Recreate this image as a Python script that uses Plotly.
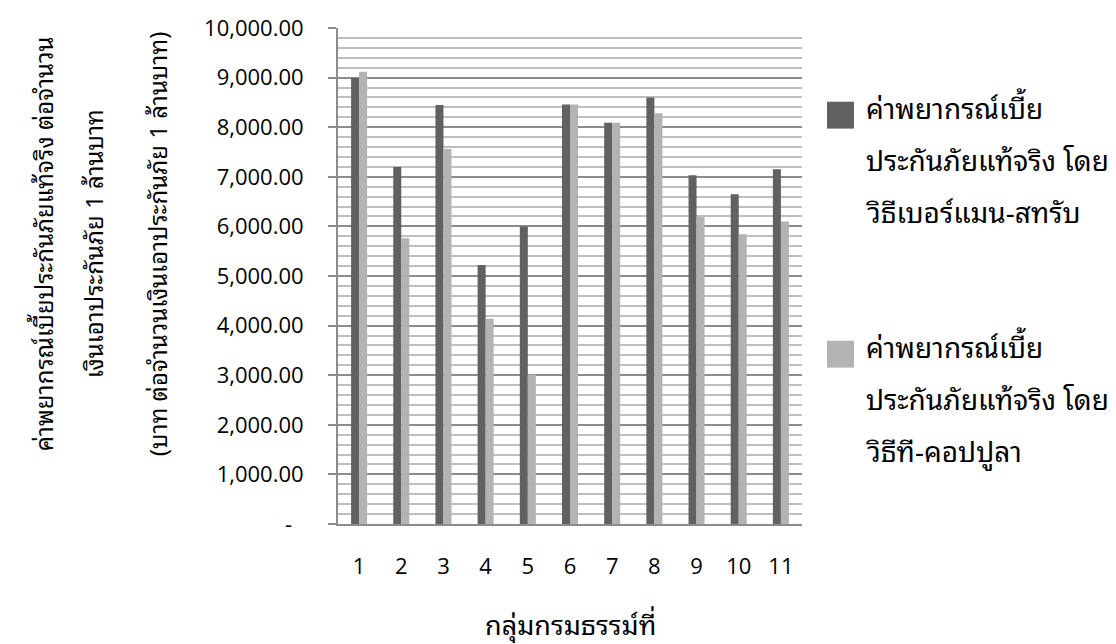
import plotly.graph_objects as go

# Data
groups = ["1", "2", "3", "4", "5", "6", "7", "8", "9", "10", "11"]
berman_strub = [8990, 7200, 8450, 5220, 6000, 8460, 8090, 8600, 7030, 6650, 7150]
t_copula = [9120, 5760, 7560, 4140, 3010, 8460, 8090, 8280, 6190, 5840, 6100]

y_tick_values = [0, 1000, 2000, 3000, 4000, 5000, 6000, 7000, 8000, 9000, 10000]
y_tick_labels = ["-\u00a0\u00a0", "1,000.00", "2,000.00", "3,000.00", "4,000.00",
                 "5,000.00", "6,000.00", "7,000.00", "8,000.00", "9,000.00", "10,000.00"]

legend_lines = [
    ["ค่าพยากรณ์เบี้ย", "ประกันภัยแท้จริง โดย", "วิธีเบอร์แมน-สทรับ"],
    ["ค่าพยากรณ์เบี้ย", "ประกันภัยแท้จริง โดย", "วิธีที-คอปปูลา"],
]
y_title_lines = [
    "ค่าพยากรณ์เบี้ยประกันภัยแท้จริง ต่อจำนวน",
    "เงินเอาประกันภัย 1 ล้านบาท",
    "(บาท ต่อจำนวนเงินเอาประกันภัย 1 ล้านบาท)",
]
x_title = "กลุ่มกรมธรรม์ที่"

# Styling
W_FIG, H_FIG = 1116, 644
L, R, T, B = 338, 314, 26, 120
PLOT_W = W_FIG - L - R
PLOT_H = H_FIG - T - B
DARK = "#616161"
LIGHT = "#b3b3b3"
MAJOR_GRID = "#8c8c8c"
MINOR_GRID = "#bfbfbf"
NUM_FONT = "Open Sans, DejaVu Sans, sans-serif"
THAI_FONT = "Noto Sans Thai Looped, Noto Sans Thai, Tahoma, sans-serif"


def fx(p):
    return (p - L) / PLOT_W


def fy(p):
    return (H_FIG - B - p) / PLOT_H


fig = go.Figure()
fig.add_trace(go.Bar(x=groups, y=berman_strub, marker=dict(color=DARK, line=dict(width=0)),
                     name="Berman-Strub"))
fig.add_trace(go.Bar(x=groups, y=t_copula, marker=dict(color=LIGHT, line=dict(width=0)),
                     name="t-copula"))

annotations = []
shapes = []

# Legend drawn as squares plus text lines
legend_colors = [DARK, LIGHT]
legend_tops = [100, 340]
line_offsets = [5, 57, 109]
for color, top, lines in zip(legend_colors, legend_tops, legend_lines):
    shapes.append(dict(type="rect", xref="paper", yref="paper",
                       x0=fx(827), x1=fx(854), y0=fy(top), y1=fy(top + 27),
                       fillcolor=color, line=dict(width=0)))
    for off, txt in zip(line_offsets, lines):
        annotations.append(dict(xref="paper", yref="paper", x=fx(864), y=fy(top + off),
                                text=txt, showarrow=False, xanchor="left", yanchor="middle",
                                font=dict(family=THAI_FONT, size=28, color="#000000")))

# Multi-line y-axis title, each line rotated on its own
for xc, txt in zip([42, 92, 156], y_title_lines):
    annotations.append(dict(xref="paper", yref="paper", x=fx(xc), y=fy(243),
                            text=txt, showarrow=False, textangle=-90,
                            xanchor="center", yanchor="middle",
                            font=dict(family=THAI_FONT, size=24, color="#000000")))

# X-axis title
annotations.append(dict(xref="paper", yref="paper", x=fx(570), y=fy(623),
                        text=x_title, showarrow=False, xanchor="center", yanchor="middle",
                        font=dict(family=THAI_FONT, size=27, color="#000000")))

fig.update_layout(
    width=W_FIG, height=H_FIG,
    margin=dict(l=L, r=R, t=T, b=B, pad=0),
    paper_bgcolor="#ffffff", plot_bgcolor="#ffffff",
    barmode="group", bargap=0.62, bargroupgap=0,
    showlegend=False,
    annotations=annotations, shapes=shapes,
    xaxis=dict(
        type="category", showgrid=False, zeroline=False,
        showline=True, linecolor=MAJOR_GRID, linewidth=2,
        ticks="", ticklabelstandoff=22,
        tickfont=dict(family=NUM_FONT, size=22, color="#000000"),
    ),
    yaxis=dict(
        range=[0, 10000], tickmode="array", tickvals=y_tick_values, ticktext=y_tick_labels,
        showgrid=True, gridcolor=MAJOR_GRID, gridwidth=2,
        minor=dict(dtick=200, showgrid=True, gridcolor=MINOR_GRID, gridwidth=2, ticks=""),
        zeroline=False, showline=True, linecolor=MAJOR_GRID, linewidth=2,
        ticks="outside", ticklen=8, tickwidth=2, tickcolor=MAJOR_GRID,
        ticklabelstandoff=20,
        tickfont=dict(family=NUM_FONT, size=22, color="#000000"),
    ),
)

fig.write_html("out.html")
